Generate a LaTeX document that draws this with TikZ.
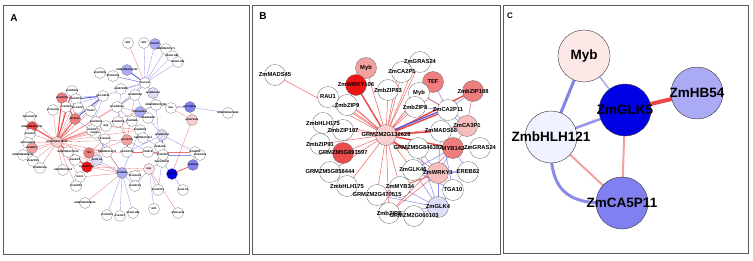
\documentclass[tikz,border=0pt]{standalone}
\usepackage{fontspec}
\setmainfont{Liberation Sans}
\setsansfont{Liberation Sans}
\pgfdeclarelayer{back}
\pgfdeclarelayer{edges}
\pgfdeclarelayer{labels}
\pgfsetlayers{back,edges,main,labels}
\definecolor{eR}{RGB}{235,70,70}
\definecolor{eRl}{RGB}{245,160,160}
\definecolor{eB}{RGB}{90,90,225}
\definecolor{eBl}{RGB}{170,170,238}
\definecolor{fRed}{RGB}{238,20,20}
\definecolor{fRed2}{RGB}{235,75,75}
\definecolor{fPk1}{RGB}{240,125,125}
\definecolor{fPk2}{RGB}{242,160,160}
\definecolor{fPk3}{RGB}{247,190,190}
\definecolor{fPk4}{RGB}{250,207,207}
\definecolor{fPk5}{RGB}{253,232,232}
\definecolor{fBl}{RGB}{0,0,228}
\definecolor{fBl2}{RGB}{128,128,240}
\definecolor{fBl3}{RGB}{170,170,245}
\definecolor{fBl4}{RGB}{222,222,248}
\definecolor{fBl5}{RGB}{240,242,255}
\definecolor{frameC}{RGB}{90,90,90}
\definecolor{ndC}{RGB}{110,110,110}
\tikzset{
  and/.style={circle,draw=ndC,line width=0.25pt,minimum size=11pt,inner sep=0pt},
  andlbl/.style={font=\bfseries\fontsize{2.5}{3}\selectfont,inner sep=0pt},
  bnd/.style={circle,draw=ndC,line width=0.35pt,minimum size=21pt,inner sep=0pt},
  bndlbl/.style={font=\bfseries\fontsize{5.8}{7}\selectfont,inner sep=0pt},
  cnd/.style={circle,draw=black!80,line width=0.4pt,minimum size=52pt,inner sep=0pt},
  cndlbl/.style={font=\bfseries\fontsize{13.5}{15}\selectfont,inner sep=0pt},
  panel/.style={draw=frameC,line width=1pt},
  plbl/.style={font=\bfseries\sffamily,anchor=center,inner sep=0pt},
  ar/.style={draw=eR,line width=0.3pt,opacity=0.75},
  arT/.style={draw=eR,line width=0.9pt},
  ab/.style={draw=eB,line width=0.3pt,opacity=0.7},
  abT/.style={draw=eB,line width=0.9pt},
  br/.style={draw=eR,line width=0.5pt,opacity=0.85},
  brT/.style={draw=eR,line width=1.4pt},
  bb/.style={draw=eB,line width=0.5pt,opacity=0.75},
  bbT/.style={draw=eB,line width=1.3pt},
}
\newcommand{\gnode}[6]{%
  \node[#4,fill=#5] (#1) at (#2,#3) {};
  \begin{pgfonlayer}{labels}\node[#4lbl] at (#2,#3) {#6};\end{pgfonlayer}%
}
\begin{document}
\begin{tikzpicture}[x=1pt,y=-1pt]
\useasboundingbox (0,0) rectangle (753,260);
\begin{pgfonlayer}{back}
\fill[white] (0,0) rectangle (753,260);
\end{pgfonlayer}
% panel frames
\draw[panel] (3,5) rectangle (249,254);
\draw[panel] (252,5) rectangle (500,254);
\draw[panel] (503,5) rectangle (748,253);
\node[plbl,font=\bfseries\fontsize{10}{12}\selectfont] (LA) at (14,18) {A};
\node[plbl,font=\bfseries\fontsize{10}{12}\selectfont] (LB) at (263,16) {B};
\node[plbl,font=\bfseries\fontsize{8}{10}\selectfont] (LC) at (510,16) {C};

% ---------------- Panel A ----------------
\gnode{a1}{128}{43}{and}{white}{ERF}
\gnode{a2}{144}{43}{and}{white}{ERF}
\gnode{a3}{155}{44}{and}{fBl3}{ZmbZIP}
\gnode{a4}{166}{49}{and}{white}{GRMZM2G0171}
\gnode{a5}{172}{56}{and}{white}{ZmbHLH82}
\gnode{a6}{178}{62}{and}{white}{ZmbHLH81}
\gnode{a7}{100}{73}{and}{white}{ZmMYB59}
\gnode{a8}{127}{70}{and}{fBl3}{GRMZM2G061422}
\gnode{a9}{113}{76}{and}{white}{ZmGRAS8}
\gnode{a10}{145}{83}{and}{white}{ZmC3H1}
\gnode{a11}{72}{91}{and}{white}{ZmMADS4}
\gnode{a12}{62}{98}{and}{fPk1}{ZmCA2P8}
\gnode{a13}{76}{99}{and}{white}{ZmbZIP9}
\gnode{a14}{103}{96}{and}{white}{ZmCA2P11}
\gnode{a15}{121}{89}{and}{white}{ZmMYB105}
\gnode{a16}{135}{95}{and}{white}{ZmMADS68}
\gnode{a17}{153}{93}{and}{fBl4}{ZmMADS69}
\gnode{a18}{53}{110}{and}{white}{ZmGLK46}
\gnode{a19}{66}{107}{and}{white}{ZmbZIP1}
\gnode{a20}{78}{108}{and}{white}{ZmCA2P1}
\gnode{a21}{91}{111}{and}{white}{TGA10}
\gnode{a22}{117}{107}{and}{white}{ZmGRAS24}
\gnode{a23}{140}{112}{and}{fBl3}{ZmbHLH121}
\gnode{a24}{156}{105}{and}{white}{GRMZM2G017081}
\gnode{a25}{171}{108}{and}{white}{EHL}
\gnode{a26}{190}{107}{and}{fBl2}{ZmCA5P11}
\gnode{a27}{192}{120}{and}{fPk4}{ZmMYB111}
\gnode{a28}{228}{113}{and}{white}{GRMZM2G408455}
\gnode{a29}{75}{119}{and}{fPk1}{MYB142}
\gnode{a30}{30}{117}{and}{white}{ZmbHLH175}
\gnode{a31}{32}{127}{and}{fRed2}{GRMZM5G893597}
\gnode{a32}{96}{122}{and}{white}{ZmMYB34}
\gnode{a33}{106}{126}{and}{white}{Myb}
\gnode{a34}{118}{122}{and}{white}{ZmMADS8}
\gnode{a35}{132}{121}{and}{white}{ZmEREB}
\gnode{a36}{148}{118}{and}{white}{ZmEREB58}
\gnode{a37}{140}{130}{and}{white}{ZmMADS5}
\gnode{a38}{95}{133}{and}{white}{ZmGLK}
\gnode{a39}{105}{139}{and}{white}{ZmbHLH}
\gnode{a40}{127}{140}{and}{fPk2}{ZmCA3P1}
\gnode{a41}{143}{138}{and}{white}{GRMZM2G0601}
\gnode{a42}{162}{135}{and}{fBl4}{ZmMADS58}
\gnode{a44}{107}{152}{and}{white}{GRMZM2G4705}
\gnode{a45}{127}{152}{and}{white}{ZmbZIP108}
\gnode{a46}{148}{152}{and}{white}{ZmMYB}
\gnode{a47}{160}{147}{and}{white}{ZmMADS}
\gnode{a48}{195}{152}{and}{white}{ZmGRAS}
\gnode{a49}{57}{142}{and}{fPk4}{GRMZM2G132628}
\gnode{a50}{30}{134}{and}{white}{ZmbHLH}
\gnode{a51}{28}{143}{and}{white}{ZmbHLH175}
\gnode{a52}{32}{148}{and}{fPk2}{ZmWRKY}
\gnode{a53}{23}{155}{and}{white}{GRMZM5G858444}
\gnode{a54}{33}{161}{and}{white}{ZmbZIP91}
\gnode{a55}{40}{168}{and}{white}{ZmMADS45}
\gnode{a56}{68}{152}{and}{white}{GRMZM2G470515}
\gnode{a57}{63}{170}{and}{white}{GRMZM5G8463}
\gnode{a58}{75}{160}{and}{white}{ZmbZIP8}
\gnode{a59}{89}{153}{and}{fPk1}{TEF}
\gnode{a60}{97}{160}{and}{fBl4}{ZmGLK4}
\gnode{a61}{87}{167}{and}{fRed}{ZmWRKY106}
\gnode{a62}{80}{177}{and}{white}{RAU1}
\gnode{a63}{76}{186}{and}{white}{ZmbZIP83}
\gnode{a64}{92}{130}{and}{white}{ZmbZIP}
\gnode{a66}{122}{173}{and}{fBl3}{ZmHB55}
\gnode{a67}{149}{169}{and}{fPk5}{Myb}
\gnode{a68}{135}{176}{and}{white}{ZmGRAS2}
\gnode{a69}{172}{174}{and}{fBl}{ZmGLK5}
\gnode{a70}{193}{165}{and}{fBl2}{ZmHB54}
\gnode{a71}{162}{162}{and}{white}{ZmbHLH121}
\gnode{a72}{163}{155}{and}{white}{ZmMYB32}
\gnode{a73}{200}{155}{and}{white}{ZmGRAS4}
\gnode{a74}{135}{186}{and}{white}{ZmNAC29}
\gnode{a75}{158}{190}{and}{white}{ZmGRXK1}
\gnode{a76}{183}{190}{and}{white}{ZmGLK4}
\gnode{a77}{85}{203}{and}{white}{GRMZM2G088610}
\gnode{a78}{154}{209}{and}{white}{ERF}
\gnode{a79}{178}{213}{and}{white}{ZmDnaJ53}
\gnode{a80}{107}{215}{and}{white}{ZmPHD16}
\gnode{a81}{120}{216}{and}{white}{ZmbZIP7}
\gnode{a82}{133}{213}{and}{white}{ZmbHLH66}

\begin{pgfonlayer}{edges}
\foreach \v in {a12,a11,a13,a18,a19,a20,a29,a30,a31,a50,a51,a52,a53,a54,a55,a56,a57,a58,a59,a61,a62,a63,a14,a21,a33,a64,a38,a44,a40,a16,a24,a22,a37,a35}
  \draw[ar] (a49.center) -- (\v.center);
\foreach \u/\v in {a49/a12,a49/a29,a49/a31,a49/a61,a12/a29,a49/a11}
  \draw[arT] (\u.center) -- (\v.center);
\foreach \u/\v in {a10/a2,a10/a3,a10/a4,a10/a5,a10/a6,a10/a15,a10/a16,a10/a17,a10/a14,a10/a22,a10/a9,a10/a7,a14/a12,a14/a19,a14/a21,a16/a22,a22/a23,a23/a24,a24/a26,a25/a26,a26/a28,a23/a36,a36/a42,a42/a47,a47/a71,a72/a73,a48/a70,a71/a69,a69/a76,a67/a75,a67/a74,a67/a78,a66/a80,a66/a81,a66/a82,a66/a60,a66/a68,a66/a38,a66/a37,a66/a74,a71/a75,a70/a73,a42/a45,a40/a45,a40/a46,a37/a41,a41/a47,a35/a37,a32/a38,a38/a44,a64/a32,a14/a64,a21/a32,a33/a34,a34/a35,a16/a36,a15/a34,a24/a47,a17/a24,a22/a35,a20/a21,a29/a38,a39/a44,a46/a72,a67/a71,a42/a48,a60/a39}
  \draw[ab] (\u.center) -- (\v.center);
\foreach \u/\v in {a10/a8,a13/a14,a29/a14,a42/a72}
  \draw[abT] (\u.center) -- (\v.center);
\foreach \u/\v in {a10/a1,a66/a77,a66/a61,a66/a56,a66/a44,a67/a66,a69/a27,a27/a25,a59/a40,a40/a34,a40/a16,a59/a46,a61/a67,a66/a62,a67/a79,a26/a27,a22/a40,a33/a37,a59/a39,a45/a48}
  \draw[ar] (\u.center) -- (\v.center);
\draw[draw=eR,line width=0.7pt] (a69.center) -- (a70.center);
\end{pgfonlayer}

% ---------------- Panel B ----------------
\gnode{bMADS45}{275}{75}{bnd}{white}{ZmMADS45}
\gnode{bMybT}{366}{68}{bnd}{fPk2}{Myb}
\gnode{bWRKY106}{356}{85}{bnd}{fRed}{ZmWRKY106}
\gnode{bRAU1}{328}{97}{bnd}{white}{RAU1}
\gnode{bZIP9}{347}{105}{bnd}{white}{ZmbZIP9}
\gnode{bGRAS24T}{420}{62}{bnd}{white}{ZmGRAS24}
\gnode{bCA2P1}{402}{72}{bnd}{white}{ZmCA2P1}
\gnode{bZIP83}{388}{90}{bnd}{white}{ZmbZIP83}
\gnode{bTEF}{433}{82}{bnd}{fPk1}{TEF}
\gnode{bMybM}{419}{93}{bnd}{white}{Myb}
\gnode{bZIP108}{473}{91}{bnd}{fPk1}{ZmbZIP108}
\gnode{bZIP8M}{415}{107}{bnd}{white}{ZmbZIP8}
\gnode{bCA2P11}{448}{110}{bnd}{white}{ZmCA2P11}
\gnode{bCA3P1}{467}{126}{bnd}{fPk3}{ZmCA3P1}
\gnode{bHLH175T}{323}{123}{bnd}{white}{ZmbHLH175}
\gnode{bZIP107}{343}{130}{bnd}{white}{ZmbZIP107}
\gnode{bMADS68}{441}{131}{bnd}{white}{ZmMADS68}
\gnode{bHub}{386}{135}{bnd}{fPk4}{GRMZM2G132628}
\gnode{bZIP91}{320}{144}{bnd}{white}{ZmbZIP91}
\gnode{b893597}{343}{153}{bnd}{fRed2}{GRMZM5G893597}
\gnode{b846382}{418}{148}{bnd}{white}{GRMZM5G846382}
\gnode{bGRAS24R}{480}{148}{bnd}{white}{ZmGRAS24}
\gnode{bMYB142}{453}{148}{bnd}{fPk1}{MYB142}
\gnode{b858444}{330}{172}{bnd}{white}{GRMZM5G858444}
\gnode{bGLK46}{413}{170}{bnd}{white}{ZmGLK46}
\gnode{bEREB82}{468}{172}{bnd}{white}{EREB82}
\gnode{bWRKY1}{438}{173}{bnd}{fPk3}{ZmWRKY1}
\gnode{bHLH175L}{347}{186}{bnd}{white}{ZmbHLH175}
\gnode{bMYB34}{400}{187}{bnd}{white}{ZmMYB34}
\gnode{bTGA10}{453}{190}{bnd}{white}{TGA10}
\gnode{b470515}{377}{195}{bnd}{white}{GRMZM2G470515}
\gnode{bGLK4}{438}{207}{bnd}{fBl4}{ZmGLK4}
\gnode{b060103}{414}{216}{bnd}{white}{GRMZM2G060103}
\gnode{bZIP8L}{389}{213}{bnd}{white}{ZmbZIP8}

\begin{pgfonlayer}{edges}
\foreach \v in {bMADS45,bMybT,bRAU1,bZIP83,bCA2P1,bGRAS24T,bMybM,bZIP8M,bTEF,bCA3P1,bHLH175T,bZIP107,bZIP91,b893597,b858444,bHLH175L,b470515,bMYB34,bZIP8L,bGLK46,bWRKY1}
  \draw[br] (bHub.center) -- (\v.center);
\draw[br] (bHub.center) -- ([xshift=-3pt]bZIP9.center);
\draw[br] (bHub.center) -- ([xshift=3pt]bZIP9.center);
\draw[br] (bHub.center) -- ([yshift=4pt]bZIP9.center);
\draw[br] (bHub.center) -- ([xshift=-4pt]bCA2P1.center);
\draw[br] (bHub.center) -- ([xshift=-4pt]bGRAS24T.center);
\foreach \v in {bWRKY106,bZIP108,bCA2P11,bMADS68,bMYB142}
  \draw[brT] (bHub.center) -- (\v.center);
\draw[brT] (bHub.center) .. controls (400,150) and (410,150) .. (b846382.center);
\draw[bbT] ([yshift=2pt]bHub.center) -- ([yshift=2pt]bCA2P11.center);
\foreach \u/\v in {bCA2P11/bMybM,bCA2P11/bZIP8M,bCA2P11/bZIP108,bCA2P11/bTEF,bGLK46/bWRKY1,bGLK46/bTGA10,bGLK46/bGLK4,bWRKY1/bGLK4,bWRKY1/bMYB142,bWRKY1/bEREB82,bTGA10/bGLK4,bMYB34/bGLK4,b060103/bGLK4,bZIP8L/bGLK4,b846382/bGLK4,bMYB142/bGRAS24R,bMYB142/bEREB82,bMADS68/bTGA10,bGLK46/bMYB142,b846382/bWRKY1,bMADS68/bWRKY1,bCA2P11/bMADS68,b470515/bGLK4,bGLK46/bEREB82}
  \draw[bb] (\u.center) -- (\v.center);
\draw[bb] ([yshift=-2pt]bCA2P11.center) -- ([yshift=-2pt]bCA3P1.center);
\draw[bb] ([yshift=2pt]bCA2P11.center) -- ([yshift=2pt]bCA3P1.center);
\foreach \u/\v in {bMYB34/bWRKY1,b470515/bWRKY1,bZIP8L/bWRKY1,bZIP108/bCA3P1,bMYB142/bCA3P1,bMybM/bCA2P11,bMADS68/bMYB142,bZIP8L/bMYB142}
  \draw[br] (\u.center) -- (\v.center);
\end{pgfonlayer}

% ---------------- Panel C ----------------
\gnode{cMyb}{584}{56}{cnd}{fPk5}{Myb}
\gnode{cGLK5}{625}{110}{cnd}{fBl}{ZmGLK5}
\gnode{cHB54}{697}{93}{cnd}{fBl3}{ZmHB54}
\gnode{cHLH}{551}{137}{cnd}{fBl5}{ZmbHLH121}
\gnode{cCA5}{622}{203}{cnd}{fBl2}{ZmCA5P11}

\begin{pgfonlayer}{edges}
\draw[draw=eBl,line width=1.5pt] (cMyb.center) -- (cGLK5.center);
\draw[draw=eB!75,line width=3pt] (cMyb.center) -- (cHLH.center);
\draw[draw=eB!65,line width=2.5pt] (cHLH.center) -- (cGLK5.center);
\draw[draw=eR,line width=4pt] (cGLK5.center) -- (cHB54.center);
\draw[draw=eRl,line width=2pt] (cGLK5.center) -- (cCA5.center);
\draw[draw=eRl,line width=2pt] (cHLH.center) -- (cCA5.center);
\draw[draw=eB!70,line width=3pt] (cHLH.center) .. controls (548,198) and (572,205) .. (cCA5.center);
\end{pgfonlayer}
\end{tikzpicture}
\end{document}
